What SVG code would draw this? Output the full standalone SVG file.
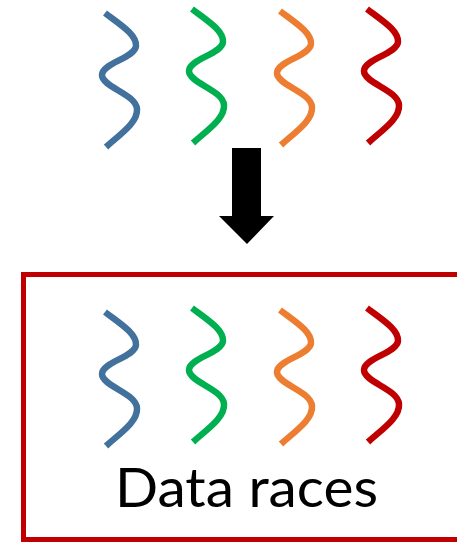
<svg xmlns="http://www.w3.org/2000/svg" width="457" height="542" viewBox="0 0 457 542">
  <style>
    .thread { fill: none; stroke-width: 6.5; stroke-linecap: butt; stroke-linejoin: round; }
    .blue { stroke: #41719C; }
    .green { stroke: #00B050; }
    .orange { stroke: #ED7D31; }
    .red { stroke: #C00000; }
    .label { font-family: Lato, "Open Sans", "Liberation Sans", sans-serif; font-size: 55px; fill: #000; }
  </style>
  <defs>
    <!-- one wavy thread, drawn from its top-left start -->
    <path id="wave" d="M0,0 C16,12 32,22 31,33 C30,45 -3,50 -3,62 C-3,74 31,81 32,96 C33,110 14,122 1,134"/>
  </defs>

  <!-- top row of threads -->
  <g id="threads-top">
    <use href="#wave" class="thread blue" x="105" y="13"/>
    <use href="#wave" class="thread green" x="192" y="9"/>
    <use href="#wave" class="thread orange" x="280" y="11"/>
    <use href="#wave" class="thread red" x="367" y="9"/>
  </g>

  <!-- downward arrow -->
  <g id="arrow">
    <polygon points="232,148 261,148 261,216 274,216 247,244 219,216 232,216" fill="#000"/>
  </g>

  <!-- result box -->
  <g id="data-races">
    <rect x="23.5" y="274.5" width="460" height="265" fill="none" stroke="#C00000" stroke-width="5"/>
    <use href="#wave" class="thread blue" x="105" y="312"/>
    <use href="#wave" class="thread green" x="192" y="308"/>
    <use href="#wave" class="thread orange" x="280" y="310"/>
    <use href="#wave" class="thread red" x="367" y="308"/>
    <text class="label" x="115" y="507" textLength="263" lengthAdjust="spacingAndGlyphs">Data races</text>
  </g>
</svg>
